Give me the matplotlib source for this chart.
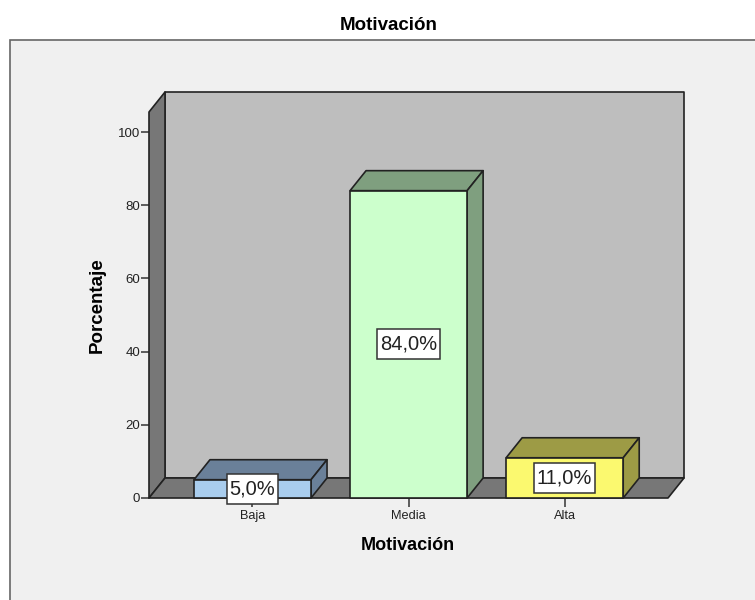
import matplotlib
matplotlib.use("Agg")
import matplotlib.pyplot as plt
from matplotlib.patches import Polygon, Rectangle
from matplotlib.transforms import IdentityTransform

plt.rcParams['font.family'] = ['Liberation Sans', 'DejaVu Sans']

# Data
categories = ['Baja', 'Media', 'Alta']
values = [5.0, 84.0, 11.0]
labels = ['5,0%', '84,0%', '11,0%']
yticks = [0, 20, 40, 60, 80, 100]
front_colors = ['#a9cdee', '#ccffcc', '#fbf96f']
top_colors = ['#6a8099', '#7f9f7f', '#9d9b45']

W, H = 755, 600
edge = '#222222'

fig = plt.figure(figsize=(W / 100, H / 100), dpi=100, facecolor='white')

# Grey chart frame, runs off the right and bottom of the image
fig.patches.append(Rectangle((10 / W, -0.02), 1.0, (600 - 40) / H + 0.02,
                             transform=fig.transFigure, facecolor='#f0f0f0',
                             edgecolor='#666666', linewidth=1.2, zorder=-1))

# Axes cover the front plane of the 3D box
ax = fig.add_axes([149 / W, (H - 498) / H, (668 - 149) / W, (498 - 112) / H])
ax.set_xlim(-0.663, 2.662)
ax.set_ylim(0, 105.5)
ax.patch.set_visible(False)
for s in ax.spines.values():
    s.set_visible(False)

# depth of the box in data units (16 px right, 20 px up)
dx = 16 / 156
dy = 20 / 3.66
x0, x1 = ax.get_xlim()
y1 = ax.get_ylim()[1]


def poly(pts, color, z):
    ax.add_patch(Polygon(pts, closed=True, facecolor=color, edgecolor=edge,
                         linewidth=1.2, joinstyle='round', clip_on=False, zorder=z))


# Walls and floor
poly([(x0 + dx, dy), (x1 + dx, dy), (x1 + dx, y1 + dy), (x0 + dx, y1 + dy)], '#bebebe', 1)
poly([(x0, 0), (x0 + dx, dy), (x0 + dx, y1 + dy), (x0, y1)], '#777777', 2)
poly([(x0, 0), (x1, 0), (x1 + dx, dy), (x0 + dx, dy)], '#777777', 2)

# Bars
w = 0.75
renderer = fig.canvas.get_renderer()
for i, v in enumerate(values):
    l, r = i - w / 2, i + w / 2
    poly([(l, v), (r, v), (r + dx, v + dy), (l + dx, v + dy)], top_colors[i], 3)
    poly([(r, 0), (r + dx, dy), (r + dx, v + dy), (r, v)], top_colors[i], 3)
    poly([(l, 0), (r, 0), (r, v), (l, v)], front_colors[i], 4)
    t = ax.text(i, v / 2, labels[i], ha='center', va='center', fontsize=14.5,
                color='#222222', zorder=6)
    # value box: 3 px either side of the text, 30 px tall
    cx, cy = ax.transData.transform((i, v / 2))
    bw = t.get_window_extent(renderer).width + 6
    ax.add_patch(Rectangle((cx - bw / 2, cy - 15), bw, 30, transform=IdentityTransform(),
                           facecolor='white', edgecolor='#333333', linewidth=1.1,
                           clip_on=False, zorder=5))

ax.set_xticks(range(len(categories)))
ax.set_xticklabels(categories)
ax.set_yticks(yticks)
ax.tick_params(axis='x', length=6.5, width=1.1, color='#333333', labelsize=9.2, pad=2, labelcolor='#222222')
ax.tick_params(axis='y', length=5.8, width=1.1, color='#333333', labelsize=9.5, pad=0.5, labelcolor='#222222')

fig.text(388.5 / W, (H - 25) / H, 'Motivación', ha='center', va='center',
         fontsize=13.5, fontweight='bold', color='black')
fig.text(408 / W, (H - 545) / H, 'Motivación', ha='center', va='center',
         fontsize=13, fontweight='bold', color='black')
fig.text(97 / W, (H - 305) / H, 'Porcentaje', ha='center', va='center', rotation=90,
         fontsize=13.5, fontweight='bold', color='black')

fig.savefig('out.png', dpi=100, facecolor=fig.get_facecolor())
